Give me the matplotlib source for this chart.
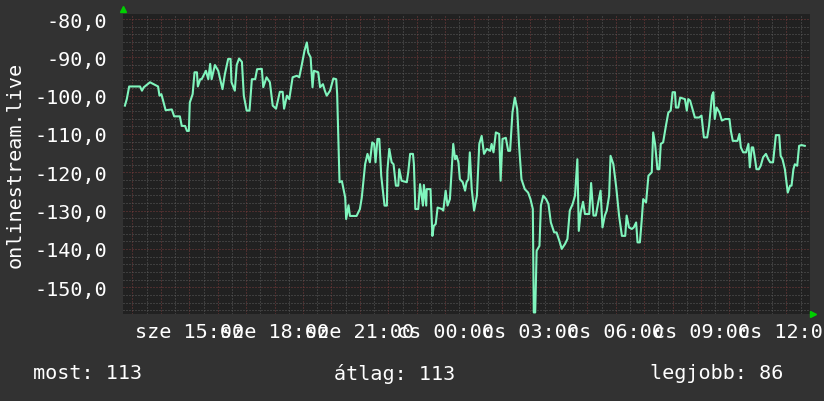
import numpy as np
import matplotlib.pyplot as plt
from matplotlib.ticker import MultipleLocator, FuncFormatter

# rank of onlinestream.live, plotted as negative values
# time in minutes since 00:00 of the first day (sze = szerda)
minutes = [764, 768, 773, 796, 800, 804, 817, 834, 837, 841, 850, 863, 868, 880, 884,
           891, 895, 899, 901, 907, 911, 916, 918, 923, 926, 935, 940, 944, 947, 954,
           961, 970, 975, 982, 987, 989, 996, 1000, 1005, 1011, 1015, 1021, 1027, 1032,
           1039, 1043, 1053, 1056, 1063, 1070, 1076, 1083, 1091, 1097, 1100, 1106, 1111,
           1118, 1127, 1132, 1137, 1143, 1148, 1151, 1156, 1160, 1163, 1172, 1176, 1182,
           1186, 1190, 1197, 1204, 1210, 1212, 1217, 1222, 1229, 1231, 1236, 1239, 1253,
           1260, 1264, 1271, 1276, 1281, 1286, 1290, 1293, 1297, 1301, 1305, 1312, 1317,
           1318, 1322, 1327, 1331, 1336, 1341, 1343, 1348, 1359, 1362, 1366, 1372, 1374,
           1377, 1383, 1387, 1393, 1395, 1400, 1401, 1409, 1413, 1416, 1420, 1424, 1433,
           1436, 1441, 1445, 1450, 1457, 1461, 1464, 1468, 1471, 1477, 1482, 1485, 1489,
           1492, 1496, 1501, 1507, 1512, 1517, 1522, 1528, 1535, 1538, 1542, 1547, 1554,
           1557, 1561, 1568, 1573, 1577, 1582, 1587, 1592, 1596, 1601, 1608, 1615, 1620,
           1625, 1627, 1630, 1633, 1639, 1642, 1647, 1653, 1658, 1663, 1670, 1675, 1681,
           1686, 1693, 1698, 1703, 1709, 1714, 1719, 1722, 1726, 1731, 1735, 1744, 1748,
           1753, 1758, 1763, 1768, 1772, 1777, 1781, 1786, 1789, 1795, 1801, 1807, 1813,
           1820, 1823, 1828, 1834, 1838, 1843, 1846, 1851, 1855, 1858, 1864, 1869, 1876,
           1879, 1883, 1888, 1892, 1895, 1900, 1906, 1911, 1916, 1920, 1925, 1927, 1932,
           1936, 1946, 1950, 1953, 1957, 1962, 1967, 1976, 1981, 1986, 1993, 1997, 2003,
           2006, 2009, 2013, 2019, 2024, 2031, 2040, 2043, 2047, 2057, 2061, 2064, 2069,
           2075, 2080, 2083, 2087, 2090, 2094, 2097, 2102, 2106, 2111, 2117, 2122, 2126,
           2132, 2138, 2145, 2148, 2152, 2157, 2163, 2168, 2171, 2175, 2178, 2183, 2187,
           2192, 2199]
rank = [-102.6, -100.9, -97.6, -97.6, -98.7, -97.8, -96.5, -97.6, -100, -99.6, -103.8,
        -103.6, -105.4, -105.4, -107.9, -107.9, -109.2, -109.2, -101.8, -99.6, -93.9,
        -93.9, -97.6, -95.7, -95.7, -93.5, -95.7, -91.7, -95.7, -92, -93.5, -98.3, -94.4,
        -90.4, -90.4, -96.5, -98.7, -92, -90.3, -91.2, -100, -103.9, -103.9, -95.7, -95.7,
        -93.1, -93, -97.8, -95.2, -96.5, -102.6, -103.4, -99, -99, -103.4, -100, -100.9,
        -95.2, -94.8, -95.2, -92.2, -88.3, -86.1, -88.8, -90, -97.8, -93.5, -93.9, -97.8,
        -97, -98.7, -100, -98.7, -95.5, -95.7, -99.6, -122.6, -122.3, -126.6, -132.2,
        -128.6, -131.4, -131.4, -129.6, -126.6, -117.9, -115.2, -117.4, -112.2, -112.6,
        -117.4, -111.3, -111.3, -120.9, -128.7, -128.7, -119.6, -113.9, -117.4, -117.9,
        -123.5, -123.5, -119.2, -122.2, -122.6, -120, -115.2, -115.2, -117.9, -129.6,
        -129.6, -123.1, -128.7, -123.3, -128.7, -124.4, -124.4, -136.6, -134, -133.5,
        -129.2, -129.6, -130, -124.8, -128.7, -127, -112.6, -116.6, -115.7, -117.4,
        -121.8, -122.6, -124.8, -122.6, -121.8, -114.8, -124.4, -130, -126.1, -112.6,
        -110.5, -115.2, -113.9, -114.4, -112.6, -114.8, -109.6, -110, -122.2, -111.3,
        -111, -114.4, -114.4, -104.4, -100.5, -103.5, -113.1, -121.8, -124.4, -125.3,
        -127, -129.6, -156.6, -156.6, -140.5, -139.2, -128.7, -126.1, -127, -128.3,
        -133.1, -135.7, -135.7, -137.9, -140, -138.7, -137.4, -130, -128.3, -126.1,
        -116.6, -135.3, -130.5, -127.7, -130.9, -130.9, -122.8, -131.3, -131.3, -127.9,
        -124.8, -134.4, -131.3, -130, -126.1, -115.7, -117.9, -123.9, -131.3, -136.6,
        -136.6, -131.3, -134.4, -134.8, -134.4, -133.1, -138.3, -138.3, -132.2, -127,
        -127.9, -120.9, -120, -109.6, -112.6, -119.2, -119.2, -112.6, -112.2, -107.8,
        -104.4, -103.9, -99.1, -99.1, -103.1, -103.1, -100.5, -100.9, -103.9, -100.9,
        -101.3, -103.5, -105.7, -105.7, -105.2, -110.9, -110.9, -107.8, -100, -99.1,
        -106.1, -103.1, -104.4, -106.5, -106.1, -106.1, -109.2, -111.8, -111.8, -110,
        -113.5, -114.8, -114.8, -112.6, -118.7, -113.5, -113.5, -116.6, -119.2, -119.2,
        -118.3, -116.1, -115.2, -116.6, -117.4, -117.4, -110.3, -110.3, -115.7, -116.6,
        -119.2, -125.3, -123.5, -123.5, -119.2, -117.9, -118.3, -113.1, -112.9, -113.1]

tick_minutes = [900, 1080, 1260, 1440, 1620, 1800, 1980, 2160]
tick_labels = ['sze 15:00', 'sze 18:00', 'sze 21:00', 'cs 00:00',
               'cs 03:00', 'cs 06:00', 'cs 09:00', 'cs 12:00']
legend_texts = ['most: 113', 'átlag: 113', 'legjobb: 86']

plt.rcParams['font.family'] = ['DejaVu Sans Mono', 'DejaVu Sans']
fs = 14.5

fig = plt.figure(figsize=(8.24, 4.02), dpi=100, facecolor='#323232')
ax = fig.add_axes([123 / 824, 1 - 315 / 402, 687 / 824, 300.3 / 402])
ax.set_facecolor('#212121')
for sp in ax.spines.values():
    sp.set_visible(False)

ax.plot(minutes, rank, color='#80f5bd', lw=1.5, zorder=3)

ax.set_xlim(760, 2210)
ax.set_ylim(-157.0, -78.6)

labmap = dict(zip(tick_minutes, tick_labels))
ax.xaxis.set_major_locator(MultipleLocator(60))
ax.xaxis.set_minor_locator(MultipleLocator(30))
ax.xaxis.set_major_formatter(FuncFormatter(lambda v, p: labmap.get(int(round(v)), '')))
ax.yaxis.set_major_locator(MultipleLocator(10))
ax.yaxis.set_minor_locator(MultipleLocator(2))
ax.yaxis.set_major_formatter(FuncFormatter(lambda v, p: f'{v:.1f}'.replace('.', ',')))

ax.set_axisbelow(True)
dots = (0, (1, 2))
ax.grid(which='major', color='#7a3c3c', lw=0.72, ls=dots)
ax.grid(which='minor', color='#5c5c5c', lw=0.72, ls=dots)

ax.tick_params(axis='both', which='both', length=0, colors='white', labelsize=fs)
ax.tick_params(axis='x', pad=6)
ax.tick_params(axis='y', pad=11.5)

fig.text(15 / 824, 1 - 165 / 402, 'onlinestream.live', rotation=90, color='white',
         fontsize=fs, ha='center', va='center')

for xpix, txt in zip([33, 334, 650], legend_texts):
    fig.text(xpix / 824, 1 - 374 / 402, txt, color='white', fontsize=fs,
             ha='left', va='center')

# rrdtool-style axis arrows
ax.plot([0], [1.017], marker='^', color='#00d000', ms=4.5, transform=ax.transAxes,
        clip_on=False, zorder=5)
ax.plot([1.004], [0], marker='>', color='#00d000', ms=4.5, transform=ax.transAxes,
        clip_on=False, zorder=5)

fig.savefig('out.png', dpi=100, facecolor=fig.get_facecolor())
